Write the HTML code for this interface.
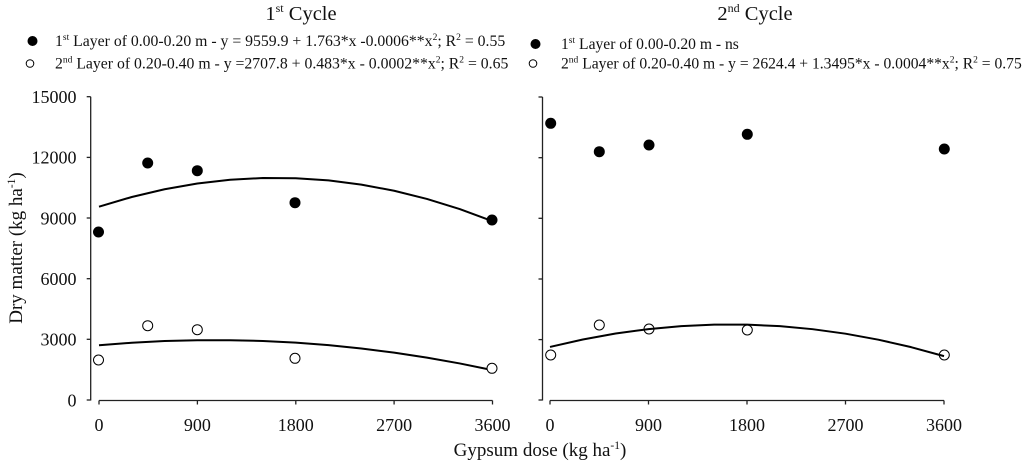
<!DOCTYPE html>
<html><head><meta charset="utf-8"><style>
html,body{margin:0;padding:0;background:#fff;}
svg{display:block;}
text{font-family:"Liberation Serif",serif;fill:#111;}
</style></head><body>
<svg width="1024" height="461" viewBox="0 0 1024 461" xmlns="http://www.w3.org/2000/svg">
<!-- Titles -->
<text x="301" y="20" font-size="20.5" text-anchor="middle">1<tspan font-size="12" dy="-8">st</tspan><tspan dy="8"> Cycle</tspan></text>
<text x="755" y="20" font-size="20.5" text-anchor="middle">2<tspan font-size="12" dy="-8">nd</tspan><tspan dy="8"> Cycle</tspan></text>

<!-- Left legend -->
<circle cx="32.5" cy="41" r="5" fill="#000"/>
<circle cx="30" cy="63.5" r="3.8" fill="none" stroke="#000" stroke-width="1"/>
<text x="55" y="46" font-size="15.75">1<tspan font-size="9.5" dy="-6">st</tspan><tspan dy="6"> Layer of 0.00-0.20 m - y = 9559.9 + 1.763*x -0.0006**x</tspan><tspan font-size="9.5" dy="-6">2</tspan><tspan dy="6">; R</tspan><tspan font-size="9.5" dy="-6">2</tspan><tspan dy="6"> = 0.55</tspan></text>
<text x="55" y="68.5" font-size="15.75">2<tspan font-size="9.5" dy="-6">nd</tspan><tspan dy="6"> Layer of 0.20-0.40 m - y =2707.8 + 0.483*x - 0.0002**x</tspan><tspan font-size="9.5" dy="-6">2</tspan><tspan dy="6">; R</tspan><tspan font-size="9.5" dy="-6">2</tspan><tspan dy="6"> = 0.65</tspan></text>

<!-- Right legend -->
<circle cx="535.5" cy="44" r="5" fill="#000"/>
<circle cx="533" cy="63.5" r="3.8" fill="none" stroke="#000" stroke-width="1"/>
<text x="561" y="49" font-size="15.6">1<tspan font-size="9.5" dy="-6">st</tspan><tspan dy="6"> Layer of 0.00-0.20 m - ns</tspan></text>
<text x="561" y="68.5" font-size="15.6">2<tspan font-size="9.5" dy="-6">nd</tspan><tspan dy="6"> Layer of 0.20-0.40 m - y = 2624.4 + 1.3495*x - 0.0004**x</tspan><tspan font-size="9.5" dy="-6">2</tspan><tspan dy="6">; R</tspan><tspan font-size="9.5" dy="-6">2</tspan><tspan dy="6"> = 0.75</tspan></text>

<!-- Left axes -->
<g stroke="#222" stroke-width="1.3" fill="none">
<line x1="90.7" y1="96.7" x2="90.7" y2="400.5"/>
<line x1="86.7" y1="96.7" x2="90.7" y2="96.7"/>
<line x1="86.7" y1="157.4" x2="90.7" y2="157.4"/>
<line x1="86.7" y1="218.0" x2="90.7" y2="218.0"/>
<line x1="86.7" y1="278.7" x2="90.7" y2="278.7"/>
<line x1="86.7" y1="339.3" x2="90.7" y2="339.3"/>
<line x1="86.7" y1="400" x2="90.7" y2="400"/>
<line x1="99" y1="400.5" x2="492.5" y2="400.5"/>
<line x1="99" y1="400.5" x2="99" y2="404.5"/>
<line x1="197.4" y1="400.5" x2="197.4" y2="404.5"/>
<line x1="295.8" y1="400.5" x2="295.8" y2="404.5"/>
<line x1="394.1" y1="400.5" x2="394.1" y2="404.5"/>
<line x1="492.5" y1="400.5" x2="492.5" y2="404.5"/>
</g>
<g font-size="18" text-anchor="end">
<text x="76.5" y="103">15000</text>
<text x="76.5" y="163.7">12000</text>
<text x="76.5" y="224.3">9000</text>
<text x="76.5" y="285">6000</text>
<text x="76.5" y="345.7">3000</text>
<text x="76.5" y="406.3">0</text>
</g>
<g font-size="18" text-anchor="middle">
<text x="99" y="431">0</text>
<text x="197.4" y="431">900</text>
<text x="295.8" y="431">1800</text>
<text x="394.1" y="431">2700</text>
<text x="492.5" y="431">3600</text>
</g>

<!-- Right axes -->
<g stroke="#222" stroke-width="1.3" fill="none">
<line x1="542.5" y1="97" x2="542.5" y2="400.5"/>
<line x1="538.5" y1="97" x2="542.5" y2="97"/>
<line x1="538.5" y1="157.7" x2="542.5" y2="157.7"/>
<line x1="538.5" y1="218.3" x2="542.5" y2="218.3"/>
<line x1="538.5" y1="279" x2="542.5" y2="279"/>
<line x1="538.5" y1="339.6" x2="542.5" y2="339.6"/>
<line x1="538.5" y1="400" x2="542.5" y2="400"/>
<line x1="550" y1="400.5" x2="944" y2="400.5"/>
<line x1="550" y1="400.5" x2="550" y2="404.5"/>
<line x1="648.5" y1="400.5" x2="648.5" y2="404.5"/>
<line x1="747" y1="400.5" x2="747" y2="404.5"/>
<line x1="845.5" y1="400.5" x2="845.5" y2="404.5"/>
<line x1="944" y1="400.5" x2="944" y2="404.5"/>
</g>
<g font-size="18" text-anchor="middle">
<text x="550" y="431">0</text>
<text x="648.5" y="431">900</text>
<text x="747" y="431">1800</text>
<text x="845.5" y="431">2700</text>
<text x="944" y="431">3600</text>
</g>

<!-- Axis titles -->
<text x="540" y="456" font-size="19" text-anchor="middle">Gypsum dose (kg ha<tspan font-size="11.5" dy="-7">-1</tspan><tspan dy="7">)</tspan></text>
<text transform="translate(22,248) rotate(-90)" font-size="19" text-anchor="middle">Dry matter (kg ha<tspan font-size="11.5" dy="-7">-1</tspan><tspan dy="7">)</tspan></text>

<!-- Curves -->
<g stroke="#000" stroke-width="2" fill="none" stroke-linejoin="round">
<polyline points="99,206.68 131.79,196.98 164.59,189.26 197.38,183.52 230.17,179.77 262.97,178.0 295.76,178.22 328.55,180.41 361.34,184.6 394.14,190.76 426.93,198.92 459.72,209.05 492.52,221.17"/>
<polyline points="99,345.24 131.79,342.73 164.59,341.05 197.38,340.2 230.17,340.19 262.97,341.01 295.76,342.67 328.55,345.15 361.34,348.48 394.14,352.63 426.93,357.62 459.72,363.44 492.52,370.1"/>
<polyline points="550,346.93 582.83,339.49 615.67,333.54 648.5,329.09 681.33,326.12 714.17,324.65 747,324.67 779.83,326.18 812.67,329.19 845.5,333.69 878.33,339.68 911.17,347.16 944,356.14"/>
</g>

<!-- Left data -->
<g fill="#000">
<circle cx="98.5" cy="232" r="5.5"/>
<circle cx="147.7" cy="163" r="5.5"/>
<circle cx="197.3" cy="170.7" r="5.5"/>
<circle cx="295" cy="202.7" r="5.5"/>
<circle cx="492" cy="220" r="5.5"/>
</g>
<g fill="#fff" stroke="#000" stroke-width="1">
<circle cx="98.5" cy="360" r="5"/>
<circle cx="147.7" cy="325.7" r="5"/>
<circle cx="197.3" cy="329.7" r="5"/>
<circle cx="295" cy="358.3" r="5"/>
<circle cx="492" cy="368.3" r="5"/>
</g>

<!-- Right data -->
<g fill="#000">
<circle cx="550.7" cy="123.3" r="5.5"/>
<circle cx="599.3" cy="151.7" r="5.5"/>
<circle cx="649" cy="145" r="5.5"/>
<circle cx="747.3" cy="134.3" r="5.5"/>
<circle cx="944.3" cy="149" r="5.5"/>
</g>
<g fill="none" stroke="#000" stroke-width="1">
<circle cx="550.7" cy="355" r="5"/>
<circle cx="599.3" cy="325" r="5"/>
<circle cx="649" cy="329" r="5"/>
<circle cx="747.3" cy="330" r="5"/>
<circle cx="944.3" cy="355" r="5"/>
</g>
</svg>
</body></html>
